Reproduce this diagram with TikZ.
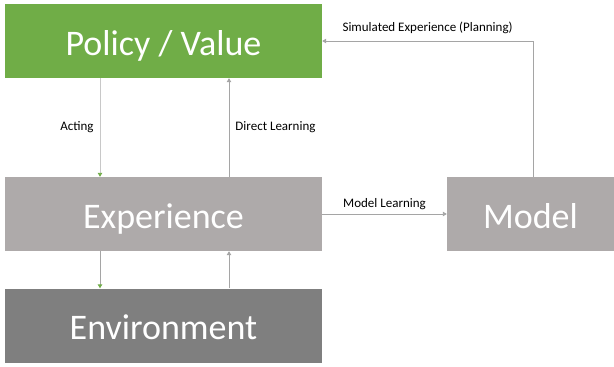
\documentclass[tikz,border=0pt]{standalone}
\usepackage{fontspec}
\setmainfont{Carlito}
\usetikzlibrary{arrows.meta}
\definecolor{policygreen}{HTML}{70AD47}
\definecolor{expgray}{HTML}{AEAAAA}
\definecolor{envgray}{HTML}{7F7F7F}
\definecolor{linegray}{HTML}{A5A5A5}
\definecolor{lightline}{HTML}{C8C8C8}
\definecolor{tipgreen}{HTML}{70AD47}
\begin{document}
\begin{tikzpicture}[x=1pt,y=-1pt]

    \tikzset{
      block/.style={
        draw=none,
        text=white,
        inner sep=0pt,
        text height=28pt,
        text depth=0pt,
        minimum height=74pt,
        font=\fontsize{36}{40}\selectfont,
      },
      flow/.style={
        draw=linegray,
        line width=0.9pt,
        -{Triangle[length=4pt,width=4.5pt,color=linegray]},
      },
      act/.style={
        draw=lightline,
        line width=0.9pt,
        -{Triangle[length=4pt,width=4.5pt,color=tipgreen]},
      },
      tag/.style={
        font=\fontsize{13}{15}\selectfont,
        text=black,
        inner sep=0pt,
      },
    }
    \useasboundingbox (0,0) rectangle (614,367);
	\node[block, fill=policygreen, minimum width=317pt] (policy) at (163.5,41) {Policy / Value};
	\node[block, fill=expgray, minimum width=317pt] (experience) at (163.5,214) {Experience};
	\node[block, fill=envgray, minimum width=317pt] (environment) at (163.5,325.5) {Environment};
	\node[block, fill=expgray, minimum width=167pt] (model) at (530.5,214) {Model};
	\coordinate (corner) at (533,41);
	\draw[act] (policy.south -| 100,0) -- (experience.north -| 100,0) node[tag, midway, left=6pt] {Acting};
	\draw[flow] (experience.north -| 229,0) -- (policy.south -| 229,0) node[tag, midway, right=6pt] {Direct Learning};
	\draw[act, draw=linegray] (experience.south -| 100,0) -- (environment.north -| 100,0);
	\draw[flow] (environment.north -| 229,0) -- (experience.south -| 229,0);
	\draw[flow] (experience.east) -- (model.west) node[tag, midway, above=4pt] {Model Learning};
	\draw[flow] (model.north -| corner) -- (corner) -- (policy.east) node[tag, midway, above=7pt] {Simulated Experience (Planning)};

\end{tikzpicture}
\end{document}
